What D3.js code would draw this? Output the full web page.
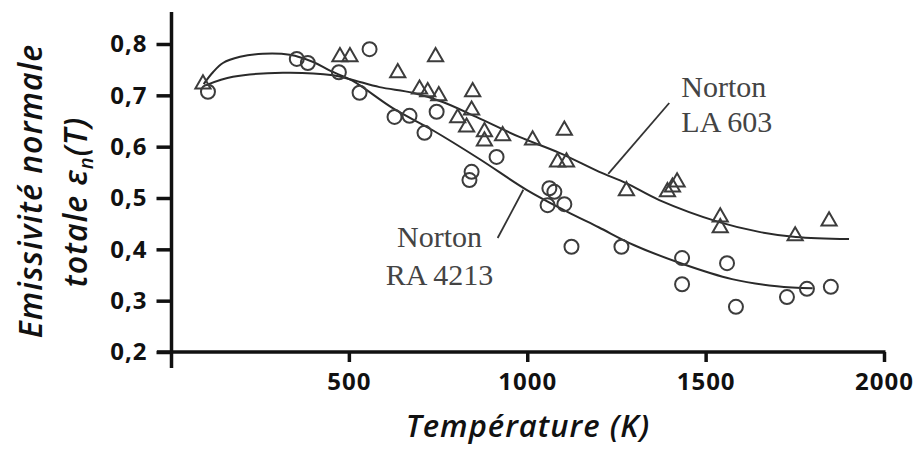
<!DOCTYPE html>
<html><head><meta charset="utf-8">
<script src="https://cdn.jsdelivr.net/npm/d3@7"></script>
<style>
html,body{margin:0;padding:0;background:#fff;}
svg{display:block;}
</style>
</head><body>
<svg id="chart" width="919" height="453"></svg>
<script>
// ---- Data ----
const xTicks = [500, 1000, 1500, 2000];
const yTicks = [0.2, 0.3, 0.4, 0.5, 0.6, 0.7, 0.8];

// Norton RA 4213 measurements (circles)
const raT = [105, 354, 385, 472, 558, 530, 628, 670, 712, 746, 914, 844, 838, 1062, 1076, 1057, 1104, 1124, 1264, 1434, 1434, 1560, 1585, 1728, 1784, 1851];
const raE = [0.707, 0.771, 0.763, 0.745, 0.790, 0.705, 0.658, 0.660, 0.627, 0.668, 0.580, 0.551, 0.535, 0.519, 0.512, 0.486, 0.488, 0.405, 0.405, 0.383, 0.332, 0.373, 0.288, 0.307, 0.323, 0.327];

// Norton LA 603 measurements (triangles)
const laT = [91, 475, 503, 637, 743, 698, 721, 752, 847, 844, 805, 830, 880, 880, 931, 1015, 1104, 1085, 1110, 1278, 1393, 1407, 1420, 1541, 1541, 1751, 1846];
const laE = [0.722, 0.775, 0.775, 0.744, 0.775, 0.712, 0.707, 0.699, 0.707, 0.671, 0.656, 0.638, 0.629, 0.611, 0.621, 0.613, 0.632, 0.570, 0.570, 0.514, 0.512, 0.521, 0.531, 0.463, 0.442, 0.426, 0.455];

// Fitted curves
const raCurveT = [93, 119, 147, 195, 259, 334, 400, 447, 511, 623, 735, 866, 998, 1110, 1200, 1300, 1434, 1574, 1700, 1800];
const raCurveE = [0.722, 0.745, 0.763, 0.775, 0.781, 0.779, 0.765, 0.748, 0.728, 0.675, 0.632, 0.576, 0.516, 0.474, 0.443, 0.408, 0.372, 0.342, 0.328, 0.324];
const laCurveT = [100, 175, 315, 456, 511, 586, 679, 763, 857, 978, 1090, 1202, 1277, 1370, 1538, 1650, 1753, 1902];
const laCurveE = [0.720, 0.736, 0.744, 0.739, 0.730, 0.716, 0.705, 0.687, 0.658, 0.619, 0.588, 0.551, 0.529, 0.496, 0.453, 0.434, 0.424, 0.420];

// ---- Chart ----
const svg = d3.select("#chart");
const x = d3.scaleLinear().domain([0, 2000]).range([170.5, 884]);
const y = d3.scaleLinear().domain([0.2, 0.8]).range([352, 44]);

const ink = "#111";
const markInk = "#3c3c3c";

// curves
const line = d3.line().x(d => x(d[0])).y(d => y(d[1])).curve(d3.curveCatmullRom.alpha(0.5));
svg.append("path").datum(raCurveT.map((t, i) => [t, raCurveE[i]]))
  .attr("d", line).attr("fill", "none").attr("stroke", "#2a2a2a").attr("stroke-width", 2);
svg.append("path").datum(laCurveT.map((t, i) => [t, laCurveE[i]]))
  .attr("d", line).attr("fill", "none").attr("stroke", "#2a2a2a").attr("stroke-width", 2);

// markers
svg.append("g").selectAll("circle").data(raT.map((t, i) => [t, raE[i]])).join("circle")
  .attr("cx", d => x(d[0])).attr("cy", d => y(d[1])).attr("r", 7)
  .attr("fill", "none").attr("stroke", markInk).attr("stroke-width", 2);
const tri = d3.symbol().type(d3.symbolTriangle).size(100);
svg.append("g").selectAll("path").data(laT.map((t, i) => [t, laE[i]])).join("path")
  .attr("d", tri).attr("transform", d => `translate(${x(d[0])},${y(d[1])})`)
  .attr("fill", "none").attr("stroke", markInk).attr("stroke-width", 2);

// leader lines
svg.append("line").attr("x1", x(1398)).attr("y1", y(0.685)).attr("x2", x(1227)).attr("y2", y(0.547))
  .attr("stroke", "#333").attr("stroke-width", 1.8);
svg.append("line").attr("x1", x(989)).attr("y1", y(0.516)).attr("x2", x(917)).attr("y2", y(0.422))
  .attr("stroke", "#333").attr("stroke-width", 1.8);

// annotations
const serif = "'Liberation Serif', 'Times New Roman', serif";
const ann = svg.append("g").attr("font-family", serif).attr("font-size", 30).attr("fill", "#444");
ann.append("text").attr("x", x(1432)).attr("y", y(0.697)).text("Norton");
ann.append("text").attr("x", x(1432)).attr("y", y(0.629)).text("LA 603");
ann.append("text").attr("x", x(754)).attr("y", y(0.405)).attr("text-anchor", "middle").text("Norton");
ann.append("text").attr("x", x(754)).attr("y", y(0.331)).attr("text-anchor", "middle").text("RA 4213");

// axes
const fmt = d => d3.format(".1f")(d).replace(".", ",");
const yAxis = svg.append("g").attr("transform", "translate(171.5,0)")
  .call(d3.axisLeft(y).tickValues(yTicks).tickFormat(fmt).tickSize(15).tickPadding(9));
const xAxis = svg.append("g").attr("transform", "translate(0,352)")
  .call(d3.axisBottom(x).tickValues(xTicks).tickFormat(d3.format("d")).tickSize(10).tickPadding(11));
[yAxis, xAxis].forEach(a => {
  a.select(".domain").remove();
  a.selectAll(".tick line").attr("stroke", ink).attr("stroke-width", 3.5);
  a.selectAll(".tick text").attr("fill", ink)
    .attr("font-family", "'Open Sans', sans-serif").attr("font-weight", 700).attr("font-size", 24)
    .attr("letter-spacing", "1px");
});
// axis lines (extended past the domain like the reference)
svg.append("line").attr("x1", 171.5).attr("x2", 171.5).attr("y1", 12).attr("y2", 368)
  .attr("stroke", ink).attr("stroke-width", 3.5);
svg.append("line").attr("x1", 157).attr("x2", x(2000) + 1.5).attr("y1", 352).attr("y2", 352)
  .attr("stroke", ink).attr("stroke-width", 3.5);

// axis titles
const titleFont = "'Open Sans', sans-serif";
svg.append("text").attr("x", 528).attr("y", 437).attr("text-anchor", "middle")
  .attr("font-family", titleFont).attr("font-style", "italic").attr("font-weight", 600)
  .attr("font-size", 31).attr("letter-spacing", "1px").attr("fill", ink)
  .text("Température (K)");

const yt = svg.append("g").attr("font-family", titleFont).attr("font-style", "italic")
  .attr("font-weight", 600).attr("font-size", 32).attr("letter-spacing", "1px").attr("fill", ink)
  .attr("text-anchor", "middle");
yt.append("text").attr("transform", "translate(42,191) rotate(-90)").text("Emissivité normale");
const t2 = yt.append("text").attr("transform", "translate(87,202) rotate(-90)");
t2.append("tspan").text("totale ε");
t2.append("tspan").attr("font-size", 20).attr("dy", 6).text("n");
t2.append("tspan").attr("dy", -6).text("(T)");
</script>
</body></html>
